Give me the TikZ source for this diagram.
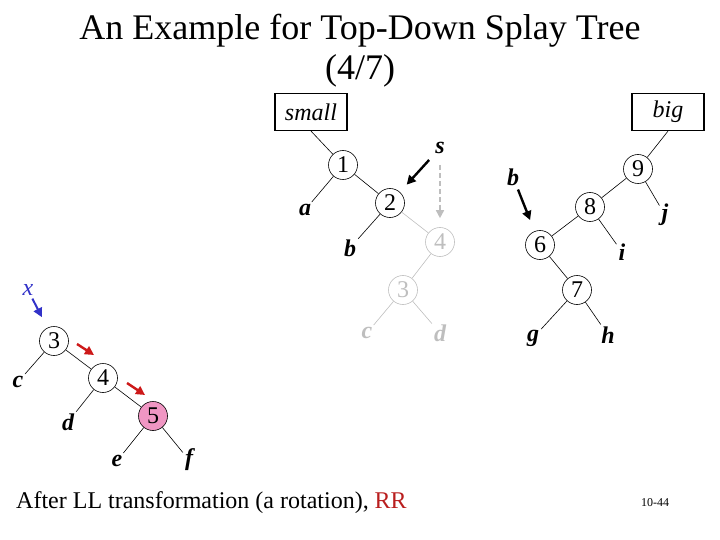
\documentclass[tikz,border=0pt]{standalone}
\usepackage{fontspec}
\setmainfont{Liberation Serif}
\usetikzlibrary{arrows.meta}
\definecolor{ghost}{RGB}{190,190,190}
\definecolor{pinkkey}{RGB}{240,150,195}
\definecolor{pathred}{RGB}{205,25,25}
\definecolor{xblue}{RGB}{50,50,200}
\definecolor{rrred}{RGB}{185,30,30}
\tikzset{
  key/.style={circle, draw, line width=0.6pt, minimum size=29pt, inner sep=0pt,
    font=\fontsize{24}{24}\selectfont},
  sub/.style={inner sep=2pt, font=\fontsize{24}{24}\selectfont\bfseries\itshape},
  tag/.style={draw, line width=1.2pt, minimum width=72pt, minimum height=37pt,
    font=\fontsize{24}{24}\selectfont\itshape},
  edge/.style={line width=0.6pt},
  pointer/.style={line width=2.4pt, -{Triangle[length=9pt,width=9pt]}},
}
\begin{document}
\begin{tikzpicture}[x=1pt, y=-1pt]
\useasboundingbox (0,0) rectangle (720,540);
% title
\path (360,31) node[font=\fontsize{36}{36}\selectfont] {An Example for Top-Down Splay Tree};
\path (360,71) node[font=\fontsize{36}{36}\selectfont] {(4/7)};
% small and big
\path (311,112) node[tag] (small) {small};
\path (668,112) node[tag] (big) {big};
% left tree
\path (343,165) node[key] (l1) {1};
\path (390,203) node[key] (l2) {2};
\path (305,210) node[sub] (a) {a};
\path (350,248) node[sub] (lb) {b};
\draw[edge] (small.south) -- (l1);
\draw[edge] (l1) -- (a);
\draw[edge] (l1) -- (l2);
\draw[edge] (l2) -- (lb);
% splayed part, grey
\path (440,242) node[key, draw=ghost, text=ghost] (g4) {4};
\path (403,290) node[key, draw=ghost, text=ghost] (g3) {3};
\path (367,333) node[sub, text=ghost] (gc) {c};
\path (440,333) node[sub, text=ghost] (gd) {d};
\draw[edge, ghost] (l2) -- (g4);
\draw[edge, ghost] (g4) -- (g3);
\draw[edge, ghost] (g3) -- (gc);
\draw[edge, ghost] (g3) -- (gd);
\path (440,148) node[sub] (s) {s};
\draw[pointer, shorten <=6pt, shorten >=10pt] (s) -- (l2);
\draw[ghost, line width=1.6pt, dash pattern=on 5pt off 3pt, -{Triangle[length=8pt,width=8pt]},
  shorten <=9pt, shorten >=9pt] (s) -- (g4);
% right tree
\path (638,169) node[key] (r9) {9};
\path (590,207) node[key] (r8) {8};
\path (540,245) node[key] (r6) {6};
\path (577,290) node[key] (r7) {7};
\path (665,215) node[sub] (j) {j};
\path (622,252) node[sub] (i) {i};
\path (533,338) node[sub] (g) {g};
\path (608,335) node[sub] (h) {h};
\draw[edge] (big.south) -- (r9);
\draw[edge] (r9) -- (r8);
\draw[edge] (r9) -- (j);
\draw[edge] (r8) -- (r6);
\draw[edge] (r8) -- (i);
\draw[edge] (r6) -- (r7);
\draw[edge] (r7) -- (g);
\draw[edge] (r7) -- (h);
\path (513,177) node[sub] (rb) {b};
\draw[pointer, shorten <=2pt, shorten >=12pt] (rb) -- (r6);
% tree below x
\path (28,290) node[sub, font=\fontsize{24}{24}\selectfont\itshape, text=xblue] (x) {x};
\path (54,341) node[key] (m3) {3};
\path (103,378) node[key] (m4) {4};
\path (153,416) node[key, fill=pinkkey] (m5) {5};
\path (18,382) node[sub] (c) {c};
\path (68,422) node[sub] (d) {d};
\path (117,461) node[sub] (e) {e};
\path (189,460) node[sub] (f) {f};
\draw[edge] (m3) -- (c);
\draw[edge] (m3) -- (m4);
\draw[edge] (m4) -- (d);
\draw[edge] (m4) -- (m5);
\draw[edge] (m5) -- (e);
\draw[edge] (m5) -- (f);
\draw[pointer, xblue, line width=2pt, shorten <=1pt, shorten >=12pt] (x) -- (m3);
\coordinate (rr1) at (77,344);
\coordinate (rr2) at (94,355);
\coordinate (rr3) at (127,383);
\coordinate (rr4) at (145,395);
\draw[pointer, pathred] (rr1) -- (rr2);
\draw[pointer, pathred] (rr3) -- (rr4);
% caption
\path (16,503) node[anchor=west, inner sep=0pt, font=\fontsize{24}{24}\selectfont] (cap)
  {After LL transformation (a rotation), \textcolor{rrred}{RR}};
\path (655,503) node[font=\fontsize{12}{12}\selectfont] (page) {10-44};
\end{tikzpicture}
\end{document}
